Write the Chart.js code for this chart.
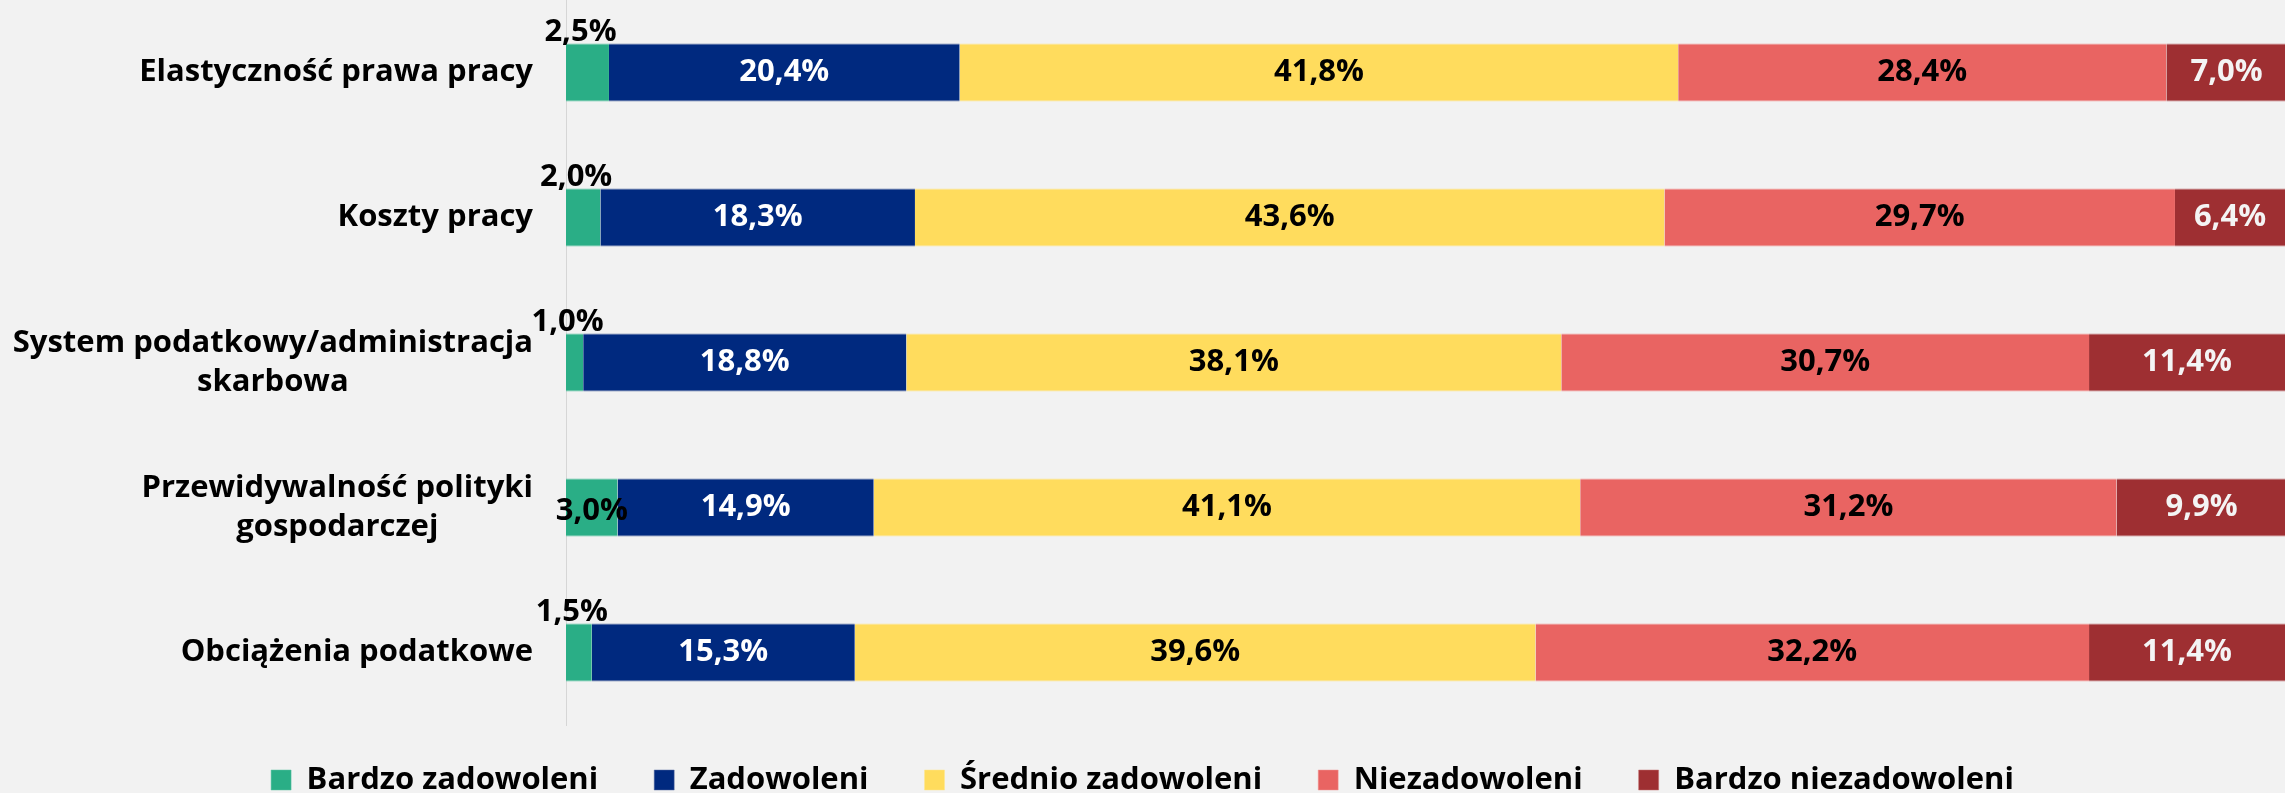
<!DOCTYPE html>
<html>
<head>
<meta charset="utf-8">
<script src="https://cdn.jsdelivr.net/npm/chart.js@4.4.1/dist/chart.umd.min.js"></script>
<style>
  html, body { margin: 0; padding: 0; background: #f2f2f2; }
  #wrap { width: 2285px; height: 793px; position: relative; }
</style>
</head>
<body>
<div id="wrap"><canvas id="c" width="2285" height="793"></canvas></div>
<script>
// ---- data ----
const categories = [
  ["Elastyczność prawa pracy"],
  ["Koszty pracy"],
  ["System podatkowy/administracja", "skarbowa"],
  ["Przewidywalność polityki", "gospodarczej"],
  ["Obciążenia podatkowe"]
];
const seriesNames = ["Bardzo zadowoleni", "Zadowoleni", "Średnio zadowoleni", "Niezadowoleni", "Bardzo niezadowoleni"];
const bardzoZadowoleni    = [2.5, 2.0, 1.0, 3.0, 1.5];
const zadowoleni          = [20.4, 18.3, 18.8, 14.9, 15.3];
const srednioZadowoleni   = [41.8, 43.6, 38.1, 41.1, 39.6];
const niezadowoleni       = [28.4, 29.7, 30.7, 31.2, 32.2];
const bardzoNiezadowoleni = [7.0, 6.4, 11.4, 9.9, 11.4];

const FONT_FAMILY = "'Open Sans', 'Noto Sans', sans-serif";
const FONT_SIZE = 31;

const colors = ['#2aae86', '#00297f', '#ffdc5d', '#e96462', '#9e2f32'];
const edgeColors = ['#5cc3a2', '#5a6fa3', '#ffe78f', '#f29a98', '#c07073'];
const labelColors = ['#000000', '#ffffff', '#000000', '#000000', '#f4f4f4'];
const seriesValues = [bardzoZadowoleni, zadowoleni, srednioZadowoleni, niezadowoleni, bardzoNiezadowoleni];

const fmt = v => v.toFixed(1).replace('.', ',') + '%';

const yLabelPlugin = {
  id: 'yLabels',
  afterDraw(chart) {
    const ctx = chart.ctx;
    const ys = chart.scales.y;
    ctx.save();
    ctx.font = `bold ${FONT_SIZE}px ${FONT_FAMILY}`;
    ctx.fillStyle = '#000';
    ctx.textAlign = 'center';
    ctx.textBaseline = 'middle';
    const lh = 39;
    chart.data.labels.forEach((lines, i) => {
      const yc = ys.getPixelForTick(i);
      const maxW = Math.max(...lines.map(l => ctx.measureText(l).width));
      const cx = chart.chartArea.left - 33 - maxW / 2;
      lines.forEach((l, j) => {
        ctx.fillText(l, cx, yc + (j - (lines.length - 1) / 2) * lh);
      });
    });
    ctx.restore();
  }
};

const dataLabelPlugin = {
  id: 'dataLabels',
  afterDatasetsDraw(chart) {
    const ctx = chart.ctx;
    ctx.save();
    ctx.font = `bold ${FONT_SIZE}px ${FONT_FAMILY}`;
    ctx.textAlign = 'center';
    chart.data.datasets.forEach((ds, di) => {
      const meta = chart.getDatasetMeta(di);
      meta.data.forEach((bar, i) => {
        const v = ds.data[i];
        const p = bar.getProps(['x', 'y', 'base', 'height'], true);
        const cx = (p.x + p.base) / 2;
        ctx.fillStyle = ds.labelColor;
        if (ds.labelAbove && v < 3) {
          ctx.textBaseline = 'alphabetic';
          ctx.fillText(fmt(v), cx - 7, p.y - p.height / 2 - 3);
        } else {
          ctx.textBaseline = 'middle';
          ctx.fillText(fmt(v), cx, p.y + (ds.labelAbove ? 4 : 0));
        }
      });
    });
    ctx.restore();
  }
};

const datasets = seriesNames.map((name, k) => ({
  label: name,
  data: seriesValues[k],
  backgroundColor: colors[k],
  borderColor: edgeColors[k],
  borderWidth: { top: 1, bottom: 1, left: 0, right: 0 },
  borderSkipped: false,
  labelColor: labelColors[k],
  labelAbove: k === 0,
  barPercentage: 0.4,
  categoryPercentage: 1.0
}));

new Chart(document.getElementById('c'), {
  type: 'bar',
  data: { labels: categories, datasets },
  options: {
    indexAxis: 'y',
    responsive: false,
    animation: false,
    devicePixelRatio: 1,
    layout: { padding: { left: 0, right: 0, top: 0, bottom: 0 } },
    scales: {
      x: { stacked: true, min: 0, max: 100, display: false },
      y: {
        stacked: true,
        grid: { display: false },
        border: { display: true, color: '#d6d6d6', width: 1 },
        ticks: { display: false },
        afterFit(scale) { scale.width = 566; }
      }
    },
    plugins: {
      legend: {
        position: 'bottom',
        maxHeight: 68,
        title: { display: true, text: '', font: { size: 1 }, padding: { top: -17.7, bottom: 0 } },
        labels: {
          boxWidth: 20,
          boxHeight: 20,
          padding: 56,
          color: '#000',
          font: { family: FONT_FAMILY, size: FONT_SIZE, weight: 'bold' }
        }
      },
      tooltip: { enabled: false }
    }
  },
  plugins: [yLabelPlugin, dataLabelPlugin]
});
</script>
</body>
</html>
